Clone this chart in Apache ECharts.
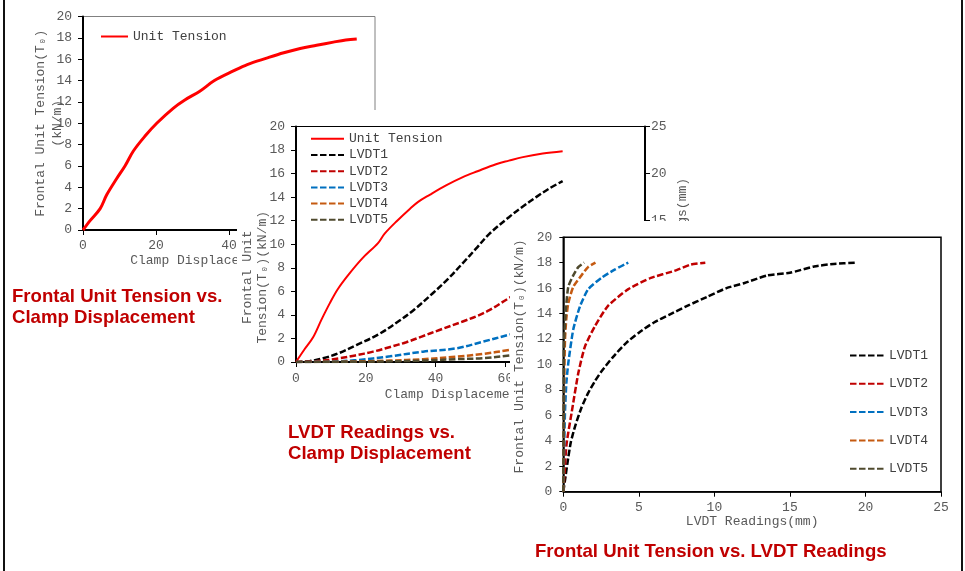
<!DOCTYPE html>
<html><head><meta charset="utf-8">
<script src="https://cdn.jsdelivr.net/npm/echarts@6/dist/echarts.min.js"></script>
<style>
html,body{margin:0;padding:0;background:#fff;}
#wrap{position:relative;width:965px;height:571px;overflow:hidden;background:#fff;}
.c{position:absolute;background:#fff;}
</style></head><body>
<div id="wrap">
<div id="c1" class="c" style="left:0;top:0;width:965px;height:571px;z-index:1"></div>
<div id="c2" class="c" style="left:237px;top:110px;width:480px;height:360px;z-index:2"></div>
<div id="c3" class="c" style="left:510px;top:221px;width:450px;height:350px;z-index:3"></div>
</div>
<script>
// ---------- data ----------
// Figure 1: Frontal unit tension (kN/m) vs clamp displacement (mm)
const fig1UnitTension = [[0,0],[2,0.9],[4.7,2.0],[6.5,3.3],[9.2,4.8],[11.5,6.0],[13.8,7.4],[17,8.8],[20.2,10.0],[24.7,11.4],[28,12.2],[32,13.0],[36,14.0],[41.2,14.9],[45,15.5],[50.3,16.1],[55,16.6],[59.5,17.0],[64,17.3],[68.6,17.6],[72,17.8],[75,17.9]];
// Figure 2: unit tension (left axis) and LVDT readings (mm, right axis) vs clamp displacement (mm)
const fig2UnitTension = [[0,0],[2.5,1.1],[4.9,2.1],[7.3,3.6],[9.7,5.0],[12,6.2],[15,7.4],[19,8.8],[23.5,10.1],[25.4,10.9],[29,12.0],[32.6,13.0],[35,13.6],[38.3,14.2],[43,15.0],[47.8,15.7],[52,16.2],[57.3,16.8],[61,17.1],[65,17.4],[70.7,17.7],[76.4,17.9]];
const fig2Lvdt1 = [[0,0],[4,0.1],[7.8,0.4],[12,0.9],[17.3,1.8],[23.5,2.9],[29.7,4.4],[34,5.6],[39.2,7.3],[43.5,8.8],[47.8,10.5],[51.5,12.0],[55.4,13.6],[61.1,15.4],[65,16.5],[68.8,17.5],[72.5,18.4],[76.4,19.2]];
const fig2Lvdt2 = [[0,0],[6,0.1],[12.6,0.4],[17,0.7],[22.1,1.1],[27,1.6],[31.6,2.1],[36,2.7],[41.1,3.4],[47.8,4.3],[52,4.9],[55.4,5.5],[61.1,6.8],[65,7.6],[70,8.5],[76.4,9.4]];
const fig2Lvdt3 = [[0,0],[10,0.05],[17.3,0.2],[26.9,0.6],[36.4,1.1],[45.9,1.45],[53.5,2.15],[61.1,2.9],[68,3.6],[76.4,4.3]];
const fig2Lvdt4 = [[0,0],[15,0.05],[26.9,0.15],[36.4,0.3],[45.9,0.56],[53.5,0.85],[61.1,1.27],[68,1.65],[76.4,2.1]];
const fig2Lvdt5 = [[0,0],[20,0.03],[36.4,0.15],[45.9,0.3],[53.5,0.4],[61.1,0.7],[68,1.0],[76.4,1.4]];
// Figure 3: unit tension (kN/m) vs LVDT readings (mm)
const fig3Lvdt1 = [[0,0],[0.1,0.8],[0.33,2.7],[0.5,3.9],[0.77,5.1],[1.2,6.6],[1.64,7.75],[2.1,8.7],[2.52,9.45],[3.3,10.6],[4.17,11.7],[5,12.5],[6,13.3],[7,13.9],[8.2,14.6],[9.5,15.3],[10.8,16.0],[12,16.4],[13.5,17.0],[15,17.2],[16.6,17.7],[17.9,17.9],[19.3,18.0]];
const fig3Lvdt2 = [[0,0],[0.1,1.8],[0.22,3.8],[0.55,6.2],[0.99,9.3],[1.43,11.4],[2.09,13.0],[2.96,14.6],[4.28,15.9],[5.8,16.8],[7.35,17.35],[8.45,17.85],[9.4,18.0]];
const fig3Lvdt3 = [[0,0],[0.05,3],[0.11,6.2],[0.2,8.5],[0.33,10.1],[0.66,12.75],[1.1,14.55],[1.64,15.9],[2.52,16.8],[3.4,17.45],[4.3,18.0]];
const fig3Lvdt4 = [[0,0],[0.03,4],[0.05,7.4],[0.11,11.9],[0.2,13.6],[0.33,14.8],[0.66,16.1],[1.2,17.0],[1.64,17.65],[2.13,18.0]];
const fig3Lvdt5 = [[0,0],[0.02,5],[0.04,11.3],[0.15,14.0],[0.33,16.1],[0.66,17.0],[0.99,17.65],[1.38,18.0]];

const seriesNames = ['Unit Tension','LVDT1','LVDT2','LVDT3','LVDT4','LVDT5'];
const titles = ['Frontal Unit Tension vs.\nClamp Displacement','LVDT Readings vs.\nClamp Displacement','Frontal Unit Tension vs. LVDT Readings'];

// ---------- styles ----------
const MONO = 'Liberation Mono, Courier New, monospace';
const lab = {fontFamily: MONO, fontSize: 13, color: '#595959'};
const legTxt = {fontFamily: MONO, fontSize: 13, color: '#404040'};
const titleStyle = {fontFamily: 'Liberation Sans, Arial, sans-serif', fontWeight: 'bold', fontSize: 18.6, lineHeight: 21, color: '#c00000'};
const colors = {ut: '#ff0000', l1: '#000000', l2: '#c00000', l3: '#0070c0', l4: '#c55a11', l5: '#4f4a2e'};
const DASH = [6.5, 2.5];

function axisBase(extra, lw) {
  return Object.assign({
    type: 'value',
    splitLine: {show: false},
    nameMoveOverlap: false,
    axisLine: {show: true, onZero: false, lineStyle: {color: '#000', width: lw}},
    axisTick: {show: true, length: 5, lineStyle: {color: '#000', width: 1}},
    axisLabel: Object.assign({margin: 9}, lab),
    nameTextStyle: Object.assign({}, lab)
  }, extra);
}
function lineSeries(name, data, color, width, dashed, yIdx, smooth) {
  return {
    type: 'line', name: name, data: data, symbol: 'none', showSymbol: false,
    yAxisIndex: yIdx || 0,
    smooth: smooth,
    lineStyle: {color: color, width: width, type: dashed ? DASH : 'solid'},
    itemStyle: {color: color},
    emphasis: {disabled: true}
  };
}
const legendBase = {padding: 0, itemHeight: 14, textStyle: legTxt, selectedMode: false, itemStyle: {opacity: 0}};

// ---------- chart 1 ----------
const ch1 = echarts.init(document.getElementById('c1'), null, {renderer: 'canvas'});
ch1.setOption({
  animation: false,
  title: {text: titles[0], left: 12, top: 286, padding: 0, textStyle: titleStyle},
  grid: {left: 83, top: 16.5, width: 292, height: 213.5, show: true, borderColor: '#808080', borderWidth: 1, outerBoundsMode: 'none', containLabel: false},
  xAxis: axisBase({min: 0, max: 80, interval: 20, name: 'Clamp Displacement(mm)', nameLocation: 'middle', nameGap: 24,
    nameTextStyle: Object.assign({}, lab, {padding: [0, 26, 0, 0]})}, 2),
  yAxis: axisBase({min: 0, max: 20, interval: 2, name: 'Frontal Unit Tension(T\u2080)\n(kN/m)', nameLocation: 'middle', nameGap: 17, nameRotate: 90,
    axisLabel: Object.assign({margin: 11}, lab),
    nameTextStyle: Object.assign({}, lab, {lineHeight: 17})}, 2),
  legend: Object.assign({left: 100, top: 30, itemWidth: 27, data: [seriesNames[0]]}, legendBase),
  series: [lineSeries(seriesNames[0], fig1UnitTension, colors.ut, 3, false, 0, 0.35)],
  graphic: [
    {type: 'rect', shape: {x: 3, y: 0, width: 2, height: 571}, style: {fill: '#111'}},
    {type: 'rect', shape: {x: 961, y: 0, width: 2, height: 571}, style: {fill: '#111'}}
  ]
});

// ---------- chart 2 ----------
const ch2 = echarts.init(document.getElementById('c2'), null, {renderer: 'canvas'});
ch2.setOption({
  animation: false,
  title: {text: titles[1], left: 51, top: 312.6, padding: 0, textStyle: titleStyle},
  grid: {left: 59, top: 16.5, width: 349, height: 235.5, show: true, borderColor: '#000', borderWidth: 1, outerBoundsMode: 'none', containLabel: false},
  xAxis: axisBase({min: 0, max: 100, interval: 20, name: 'Clamp Displacement(mm)', nameLocation: 'middle', nameGap: 26,
    axisLabel: Object.assign({margin: 10}, lab)}, 2),
  yAxis: [
    axisBase({min: 0, max: 20, interval: 2, position: 'left', name: 'Frontal Unit\nTension(T\u2080)(kN/m)', nameLocation: 'middle', nameGap: 26, nameRotate: 90,
      axisLabel: Object.assign({margin: 11}, lab),
      nameTextStyle: Object.assign({}, lab, {lineHeight: 15, padding: [0, 66, 0, 0]})}, 2),
    axisBase({min: 0, max: 25, interval: 5, position: 'right', name: 'LVDT Readings(mm)', nameLocation: 'middle', nameGap: 30.5, nameRotate: 90,
      axisLabel: Object.assign({margin: 6}, lab),
      nameTextStyle: Object.assign({}, lab, {lineHeight: 15})}, 2)
  ],
  legend: Object.assign({orient: 'vertical', left: 73, top: 22.3, itemWidth: 33, itemGap: 3.2, data: seriesNames}, legendBase),
  series: [
    lineSeries(seriesNames[0], fig2UnitTension, colors.ut, 2, false, 0, 0.35),
    lineSeries(seriesNames[1], fig2Lvdt1, colors.l1, 2.5, true, 1, 0.35),
    lineSeries(seriesNames[2], fig2Lvdt2, colors.l2, 2.5, true, 1, 0.35),
    lineSeries(seriesNames[3], fig2Lvdt3, colors.l3, 2.5, true, 1, 0.35),
    lineSeries(seriesNames[4], fig2Lvdt4, colors.l4, 2.5, true, 1, 0.35),
    lineSeries(seriesNames[5], fig2Lvdt5, colors.l5, 2.5, true, 1, 0.35)
  ]
});

// ---------- chart 3 ----------
const ch3 = echarts.init(document.getElementById('c3'), null, {renderer: 'canvas'});
ch3.setOption({
  animation: false,
  title: {text: titles[2], left: 25, top: 320.3, padding: 0, textStyle: titleStyle},
  grid: {left: 53.3, top: 16.2, width: 377.7, height: 254.5, show: true, borderColor: '#000', borderWidth: 1.5, outerBoundsMode: 'none', containLabel: false},
  xAxis: axisBase({min: 0, max: 25, interval: 5, name: 'LVDT Readings(mm)', nameLocation: 'middle', nameGap: 23.5}, 1.5),
  yAxis: axisBase({min: 0, max: 20, interval: 2, name: 'Frontal Unit Tension(T\u2080)(kN/m)', nameLocation: 'middle', nameGap: 36, nameRotate: 90,
    axisTick: {show: true, length: 4, lineStyle: {color: '#000', width: 1}},
    axisLabel: Object.assign({margin: 11}, lab),
    nameTextStyle: Object.assign({}, lab, {lineHeight: 15, padding: [0, 0, 0, 16]})}, 1.5),
  legend: Object.assign({orient: 'vertical', left: 339, top: 128, itemWidth: 34, itemGap: 15.3, data: seriesNames.slice(1)}, legendBase),
  series: [
    lineSeries(seriesNames[1], fig3Lvdt1, colors.l1, 2.5, true, 0, 0.2),
    lineSeries(seriesNames[2], fig3Lvdt2, colors.l2, 2.5, true, 0, 0.2),
    lineSeries(seriesNames[3], fig3Lvdt3, colors.l3, 2.5, true, 0, 0.2),
    lineSeries(seriesNames[4], fig3Lvdt4, colors.l4, 2.5, true, 0, 0.2),
    lineSeries(seriesNames[5], fig3Lvdt5, colors.l5, 2.5, true, 0, 0.2)
  ]
});
</script>
</body></html>
